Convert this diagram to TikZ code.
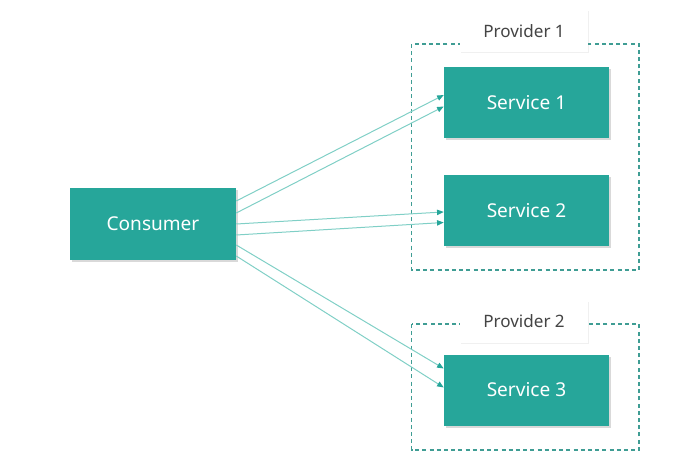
\documentclass[tikz,border=0pt]{standalone}
\usepackage{fontspec}
\setmainfont{Noto Sans}
\usetikzlibrary{arrows.meta,shadows,calc}
\definecolor{teal1}{HTML}{26A69A}
\definecolor{tealline}{HTML}{80CFC6}
\definecolor{tealdash}{HTML}{3F9D94}
\definecolor{labelgray}{HTML}{444444}
\tikzset{
  svc/.style={draw=none, fill=teal1, text=white, minimum width=123.75pt, minimum height=53.25pt,
    inner sep=0pt, font=\fontsize{14.3}{16}\selectfont,
    drop shadow={shadow xshift=1.5pt, shadow yshift=-1.5pt, opacity=0.25, fill=black!60}},
  grp/.style={draw=tealdash, line width=0.8pt, dash pattern=on 3pt off 2.4pt},
  lbl/.style={fill=white, text=labelgray, minimum width=96pt, minimum height=31.5pt, inner sep=0pt,
    font=\fontsize{12.8}{15}\selectfont,
    drop shadow={shadow xshift=0.8pt, shadow yshift=-0.8pt, opacity=0.12, fill=black!50}},
  link/.style={draw=tealline, line width=0.75pt, -{Triangle[length=5pt,width=4pt,fill=teal1,color=teal1]}}
}
\begin{document}
\begin{tikzpicture}[x=0.75pt,y=-0.75pt]
\useasboundingbox (0,0) rectangle (680,459);
% provider groups
\draw[grp] (411.5,44) rectangle (639,270);
\draw[grp] (411.5,324) rectangle (639,450);
\node[lbl] (p1) at (524,31) {Provider 1};
\node[lbl] (p2) at (524,321.5) {Provider 2};
% nodes
\node[svc, minimum width=124.5pt, minimum height=54pt] (c) at (153,224) {Consumer};
\node[svc] (s1) at (526.5,102.5) {Service 1};
\node[svc] (s2) at (526.5,210.5) {Service 2};
\node[svc] (s3) at (526.5,390) {Service 3};
% links
\draw[link] ([yshift=17.25pt]c.east) -- ([yshift=5.6pt]s1.west);
\draw[link] ([yshift=8.25pt]c.east) -- ([yshift=-3pt]s1.west);
\draw[link] ([yshift=0pt]c.east) -- ([yshift=-1.1pt]s2.west);
\draw[link] ([yshift=-8.25pt]c.east) -- ([yshift=-9pt]s2.west);
\draw[link] ([yshift=-15.75pt]c.east) -- ([yshift=16.1pt]s3.west);
\draw[link] ([yshift=-24pt]c.east) -- ([yshift=1.9pt]s3.west);
\end{tikzpicture}
\end{document}
